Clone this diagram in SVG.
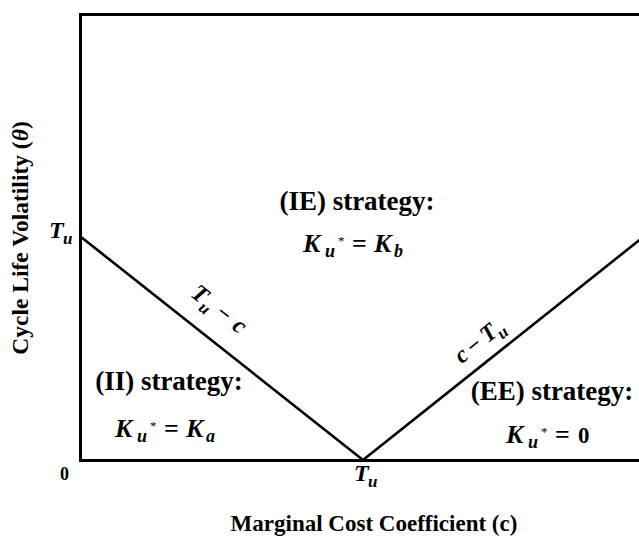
<svg xmlns="http://www.w3.org/2000/svg" width="639" height="538" viewBox="0 0 639 538">
<style>
text{font-family:'Times New Roman','Liberation Serif','DejaVu Serif',serif;font-weight:bold;fill:#000}
.h{font-size:27px}
.t{font-size:23px}
.i{font-style:italic}
.k{font-size:24px;font-style:italic}
.s{font-size:17px;font-style:italic}
.fk{font-size:26px;font-style:italic}
.fs{font-size:18px;font-style:italic}
.a{font-size:13px;font-weight:normal}
.e{font-size:26px}
.ln{fill:none;stroke:#000;stroke-width:2.6}
</style>
<rect width="639" height="538" fill="#fff"/>
<g id="axes">
<path d="M642 14.5H80.5V460.5H642" fill="none" stroke="#000" stroke-width="3"/>
<text class="t" x="0" y="0" text-anchor="middle" transform="translate(28,238) rotate(-90)" style="font-size:23.5px">Cycle Life Volatility (<tspan class="i">θ</tspan>)</text>
<text class="t" x="374" y="531" text-anchor="middle">Marginal Cost Coefficient (c)</text>
<text x="60" y="480" style="font-size:18px">0</text>
<g id="tu-left"><text class="k" x="49" y="238">T</text><text class="s" x="63" y="244">u</text></g>
<g id="tu-bottom"><text class="k" x="354" y="481">T</text><text class="s" x="368" y="487">u</text></g>
</g>
<g id="connectors">
<line class="ln" x1="81" y1="237" x2="363" y2="460"/>
<line class="ln" x1="363" y1="460" x2="642" y2="238"/>
<g transform="translate(213,314) rotate(38.3)"><text class="k" x="-30" y="0">T</text><text class="s" x="-15" y="6">u</text><text class="t" x="2" y="0">−</text><text class="k" x="23" y="0">c</text></g>
<g transform="translate(486,345) rotate(-38.6)"><text class="k" x="-31" y="0">c</text><text class="t" x="-16" y="0">−</text><text class="k" x="2" y="0">T</text><text class="s" x="16" y="6">u</text></g>
</g>
<g id="region-ie">
<text class="h" x="357" y="210" text-anchor="middle">(IE) strategy:</text>
<text class="fk" x="303" y="252">K</text><text class="fs" x="325" y="257">u</text><text class="a" x="338" y="245">*</text><text class="e" x="352" y="252">=</text><text class="fk" x="374" y="252">K</text><text class="fs" x="394" y="257">b</text>
</g>
<g id="region-ii">
<text class="h" x="169" y="390" text-anchor="middle">(II) strategy:</text>
<text class="fk" x="115" y="437">K</text><text class="fs" x="137" y="442">u</text><text class="a" x="150" y="430">*</text><text class="e" x="164" y="437">=</text><text class="fk" x="186" y="437">K</text><text class="fs" x="206" y="442">a</text>
</g>
<g id="region-ee">
<text class="h" x="552" y="400" text-anchor="middle">(EE) strategy:</text>
<text class="fk" x="506" y="443">K</text><text class="fs" x="528" y="448">u</text><text class="a" x="541" y="436">*</text><text class="e" x="555" y="443">=</text><text x="578" y="443" style="font-size:23px">0</text>
</g>
</svg>
